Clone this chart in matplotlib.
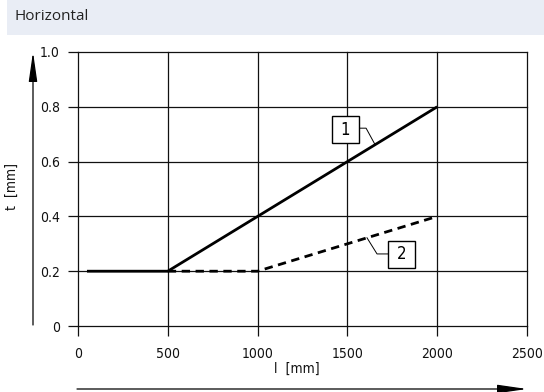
import matplotlib
matplotlib.use("Agg")
import matplotlib.pyplot as plt
from matplotlib.patches import Rectangle, FancyArrowPatch

# Data
l1 = [50, 500, 2000]
t1 = [0.2, 0.2, 0.8]
l2 = [500, 1000, 2000]
t2 = [0.2, 0.2, 0.4]
xticks = [0, 500, 1000, 1500, 2000, 2500]
yticks = [0, 0.2, 0.4, 0.6, 0.8, 1.0]
ytick_labels = ["0", "0.2", "0.4", "0.6", "0.8", "1.0"]
title = "Horizontal"
xlabel = "l  [mm]"
ylabel = "t  [mm]"

W, H = 544, 392
fig = plt.figure(figsize=(W / 100, H / 100), dpi=100)
fig.patch.set_facecolor("white")

# header band
fig.patches.append(Rectangle((7 / W, 1 - 35 / H), 1 - 7 / W, 35 / H,
                             transform=fig.transFigure, facecolor="#e9edf5",
                             edgecolor="none", zorder=0))
fig.text(14 / W, 1 - 17 / H, title, fontsize=11, family="Open Sans",
         va="center", ha="left", color="#222222")

ax = fig.add_axes([78 / W, 1 - 326 / H, 449 / W, 274 / H])
ax.set_xlim(0, 2500)
ax.set_ylim(0, 1.0)
for s in ax.spines.values():
    s.set_visible(False)
ax.set_xticks(xticks)
ax.set_xticklabels([str(v) for v in xticks])
ax.set_yticks(yticks)
ax.set_yticklabels(ytick_labels)
ax.tick_params(direction="out", length=7, width=0.9, color="#111111",
               labelsize=10, labelcolor="#111111")
ax.tick_params(axis="x", pad=8)
ax.tick_params(axis="y", pad=6)
for lab in ax.get_xticklabels() + ax.get_yticklabels():
    lab.set_fontstretch("condensed")
for x in xticks:
    ax.axvline(x, color="#111111", lw=0.9, zorder=1, clip_on=False)
for y in yticks:
    ax.axhline(y, color="#111111", lw=0.9, zorder=1, clip_on=False)

ax.plot(l1, t1, color="black", lw=2, zorder=3, solid_capstyle="butt")
ax.plot(l2, t2, color="black", lw=2, ls=(0, (3, 2)), zorder=3)

# callouts: square box 27 px wide
bw = 27 / 449 * 2500
bh = 27 / 274 * 1.0

def callout(text, box_x, box_y, pts):
    ax.plot([p[0] for p in pts], [p[1] for p in pts], color="black", lw=0.7, zorder=4)
    ax.add_patch(Rectangle((box_x - bw / 2, box_y - bh / 2), bw, bh, fc="white",
                           ec="black", lw=1, zorder=5))
    ax.text(box_x, box_y, text, fontsize=12, ha="center", va="center", zorder=6,
            fontstretch="condensed")

callout("1", 1489, 0.717, [(1560, 0.722), (1604, 0.722), (1654, 0.662)])
callout("2", 1804, 0.261, [(1726, 0.263), (1665, 0.263), (1609, 0.322)])

# arrows
arrowstyle = "-|>,head_length=18,head_width=2.6"
fig.add_artist(FancyArrowPatch(
    (33 / W, 1 - 325 / H), (33 / W, 1 - 52 / H), transform=fig.transFigure,
    arrowstyle=arrowstyle, lw=0.9, color="black",
    mutation_scale=1, shrinkA=0, shrinkB=0))
fig.add_artist(FancyArrowPatch(
    (77 / W, 1 - 389 / H), (527 / W, 1 - 389 / H), transform=fig.transFigure,
    arrowstyle=arrowstyle, lw=0.9, color="black",
    mutation_scale=1, shrinkA=0, shrinkB=0))
fig.text(12 / W, 1 - 187 / H, ylabel, rotation=90, fontsize=10, ha="center",
         va="center", color="#111111", fontstretch="condensed")
fig.text(297 / W, 1 - 369 / H, xlabel, fontsize=10, ha="center",
         va="center", color="#111111", fontstretch="condensed")

fig.savefig("out.png", dpi=100)
